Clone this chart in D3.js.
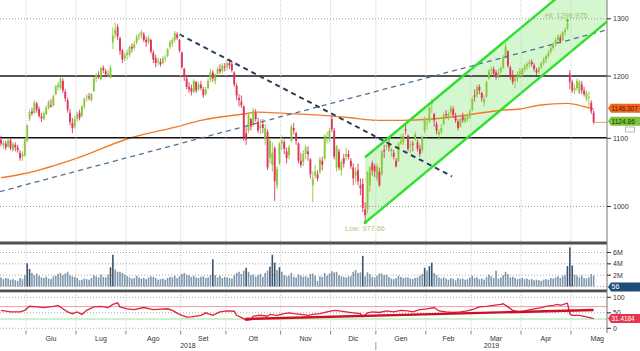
<!DOCTYPE html>
<html><head><meta charset="utf-8">
<script src="https://cdn.jsdelivr.net/npm/d3@7"></script>
<style>body{margin:0;background:#fff;}svg{display:block;}text{font-family:"Liberation Sans",Arial,sans-serif;}</style>
</head><body><svg id="c" width="640" height="351"></svg>
<script>
// ---------- DATA ----------
const startDate = "2018-05-16";
const holidays = ["2018-05-28","2018-07-04","2018-09-03","2018-11-22","2018-12-05","2018-12-25","2019-01-01","2019-01-21","2019-02-18","2019-04-19","2019-05-27"];
const opens = [1098,1090,1092,1088,1097,1082,1090,1086,1078,1072,1074,
1096,1130,1142,1140,1155,1146,1134,1130,1138,1148,1152,1152,1170,1182,1180,1192,1174,1160,1140,1124,1118,
1130,1140,1135,1150,1165,1166,1160,1175,1196,1200,1195,1214,1208,1202,1198,1258,1272,1285,1265,1244,1230,
1236,1236,1250,1248,1258,1268,1270,1272,1262,1258,1262,1240,1230,1224,1224,1222,1230,1234,1250,1256,1262,1272,1262,
1240,1212,1196,1182,1180,1174,1190,1178,1186,1178,1170,1180,1194,1206,1192,1204,1212,1208,1216,
1216,1222,1220,1206,1184,1164,1158,1150,1108,1112,1130,1122,1140,1126,1116,1122,1100,1110,1070,1060,1085,1030,1062,
1092,1094,1080,1074,1096,1116,1108,1092,1066,1064,1076,1080,1068,1030,1044,1046,1050,1066,1070,1100,1100,
1130,1112,1056,1080,1052,1070,1072,1076,1066,1056,1044,1052,1030,1032,996,996,1030,1062,1058,
1040,1050,1046,1082,1088,1092,1080,1078,1066,1066,1092,1094,1114,1104,1090,1092,1100,1094,1084,1082,1112,
1124,1126,1154,1138,1122,1106,1110,1122,1138,1134,1140,1146,1134,1126,1118,1134,1126,1130,1134,
1144,1168,1168,1182,1172,1156,1166,1196,1210,1212,1206,1200,1208,1214,1232,1242,1214,1202,1192,1196,1204,
1202,1212,1216,1220,1224,1218,1210,1206,1214,1222,1228,1234,1242,1248,1256,1262,1266,1262,1276,1282,1204,
1190,1176,1180,1172,1186,1176,1162,1166,1156,1140];
const highs = [1104,1097,1096,1100,1100,1094,1094,1090,1082,1080,1100,
1122,1145,1148,1160,1158,1150,1140,1142,1152,1160,1162,1170,1185,1190,1199,1196,1178,1164,1146,1132,1135,
1142,1145,1152,1165,1170,1172,1172,1198,1205,1208,1216,1218,1212,1210,1218,1284,1293,1290,1268,1246,1240,
1245,1252,1256,1260,1272,1275,1280,1276,1268,1270,1264,1244,1236,1232,1230,1234,1236,1248,1262,1266,1278,1276,1264,
1242,1214,1200,1190,1186,1195,1192,1190,1192,1182,1182,1196,1212,1210,1204,1216,1220,1222,1222,
1228,1230,1226,1208,1188,1170,1168,1152,1118,1140,1132,1148,1146,1132,1130,1130,1122,1114,1100,1094,1088,1058,1094,
1104,1098,1086,1090,1122,1124,1110,1094,1078,1082,1090,1088,1070,1050,1060,1052,1072,1072,1106,1110,1116,
1136,1116,1090,1084,1068,1076,1086,1082,1070,1062,1056,1062,1040,1040,1006,1050,1058,1066,1062,
1062,1056,1082,1090,1096,1100,1086,1082,1070,1094,1106,1108,1122,1106,1096,1096,1110,1098,1090,1104,1134,
1132,1150,1162,1140,1126,1114,1122,1140,1144,1142,1152,1150,1140,1130,1132,1140,1136,1138,1146,
1166,1178,1186,1186,1174,1168,1192,1212,1216,1216,1210,1212,1216,1236,1256,1244,1218,1210,1200,1208,1214,
1214,1220,1224,1228,1228,1222,1214,1216,1224,1232,1236,1244,1252,1258,1266,1272,1272,1278,1284,1296.975,1210,
1194,1186,1196,1194,1192,1182,1176,1174,1160,1144];
const lows = [1088,1084,1082,1085,1082,1080,1080,1078,1066,1066,1072,
1094,1127,1135,1138,1140,1132,1125,1128,1136,1145,1148,1150,1168,1176,1178,1172,1158,1140,1120,1108,1115,
1126,1128,1133,1146,1158,1160,1158,1174,1190,1195,1193,1205,1198,1198,1196,1246,1265,1262,1236,1222,1225,
1228,1232,1240,1244,1254,1262,1264,1258,1250,1255,1238,1222,1215,1218,1216,1220,1224,1232,1246,1250,1258,1262,1240,
1212,1192,1178,1172,1168,1172,1172,1175,1176,1164,1168,1178,1190,1190,1186,1200,1204,1204,1208,
1210,1212,1206,1182,1160,1150,1148,1096,1090,1108,1112,1118,1126,1108,1106,1108,1090,1052,1062,1050,1008,1025,1060,
1082,1076,1062,1068,1094,1106,1090,1062,1056,1058,1068,1066,1040,1006,1040,1036,1046,1052,1066,1092,1094,
1110,1068,1050,1052,1044,1056,1066,1068,1054,1030,1034,1030,1016,992,977.66,990,1020,1044,1042,
1036,1028,1044,1070,1082,1080,1072,1068,1056,1064,1090,1090,1106,1080,1078,1080,1096,1080,1072,1078,1108,
1114,1124,1140,1118,1106,1098,1106,1120,1132,1128,1136,1132,1124,1112,1116,1124,1124,1126,1130,
1142,1158,1164,1170,1158,1150,1164,1194,1202,1200,1194,1196,1204,1212,1230,1214,1194,1186,1180,1190,1198,
1198,1206,1210,1214,1216,1208,1202,1204,1212,1218,1222,1230,1238,1244,1250,1256,1256,1260,1270,1280,1178,
1172,1170,1176,1170,1170,1166,1158,1150,1138,1122];
const closes = [1092,1093,1086,1097,1085,1091,1086,1082,1070,1076,1098,
1120,1141,1139,1156,1145,1135,1131,1139,1148,1158,1150,1166,1183,1186,1195,1176,1163,1145,1125,1116,1130,
1138,1132,1150,1162,1166,1164,1170,1196,1202,1198,1213,1210,1203,1204,1214,1270,1280,1268,1243,1228,1236,
1240,1250,1247,1255,1268,1270,1276,1262,1258,1266,1242,1228,1222,1226,1220,1230,1232,1246,1258,1262,1274,1266,1244,
1215,1198,1182,1178,1174,1192,1176,1186,1180,1168,1178,1192,1206,1196,1200,1212,1208,1218,1214,
1222,1218,1210,1186,1168,1160,1152,1102,1098,1136,1118,1144,1130,1112,1120,1116,1116,1056,1096,1078,1036,1054,1092,
1096,1084,1070,1086,1118,1112,1096,1066,1060,1076,1086,1076,1046,1040,1050,1040,1068,1060,1104,1100,1112,
1114,1072,1088,1056,1064,1062,1076,1072,1058,1040,1050,1036,1026,998,988,1050,1056,1052,1050,
1058,1030,1080,1080,1090,1086,1084,1072,1058,1092,1096,1104,1112,1084,1090,1090,1106,1084,1076,1102,1130,
1124,1148,1158,1128,1112,1110,1116,1136,1136,1138,1148,1136,1128,1116,1130,1128,1132,1134,1142,
1162,1166,1182,1176,1164,1162,1190,1208,1210,1204,1198,1206,1214,1232,1250,1218,1200,1190,1196,1204,1208,
1212,1216,1220,1224,1220,1212,1206,1214,1222,1228,1234,1240,1248,1254,1262,1268,1260,1276,1280,1292,1190,
1176,1180,1192,1190,1176,1170,1172,1166,1142,1124.86];
const volumes = [1.6,1.3,1.5,1.4,1.2,1.3,1.1,1.0,1.5,1.3,2.0,
4.1,3.1,2.4,2.0,2.3,1.9,1.6,1.5,1.7,1.4,1.3,1.8,1.9,2.2,2.4,2.0,2.3,2.6,2.0,1.8,1.7,
1.5,1.1,1.2,1.4,1.3,1.2,1.5,2.0,1.8,1.6,2.1,1.7,1.6,2.1,3.4,5.6,3.0,2.6,2.6,2.4,2.1,
1.8,1.6,1.4,1.5,1.9,1.6,1.4,1.5,1.3,1.6,1.8,1.7,1.5,1.2,1.3,1.4,1.2,1.5,1.7,1.6,1.9,1.5,1.8,
2.2,2.4,2.1,2.0,1.7,1.9,1.6,1.5,1.7,1.8,1.5,1.6,2.0,4.8,2.0,1.6,1.9,1.5,1.7,
1.6,1.5,1.4,2.0,2.4,2.6,2.2,2.8,3.3,2.6,2.0,2.1,1.7,2.0,2.2,1.7,2.4,2.8,3.5,5.6,4.2,2.9,3.4,
2.6,2.0,1.8,1.9,2.4,1.7,1.6,2.1,1.9,1.7,1.8,1.6,2.2,2.3,1.9,1.0,1.8,1.7,2.4,1.9,2.3,
2.7,2.5,2.6,2.0,1.8,1.7,1.6,1.8,1.8,2.6,2.9,2.4,2.5,5.4,1.8,2.5,2.2,1.7,1.6,
1.9,2.3,2.3,2.0,2.1,1.7,1.4,1.3,1.5,1.9,1.7,1.5,1.6,1.6,1.4,1.3,1.5,1.6,1.9,2.2,3.3,
2.8,3.6,4.2,2.4,2.0,1.6,1.4,1.6,1.4,1.2,1.5,1.3,1.1,1.5,1.3,1.4,1.2,1.3,1.6,
1.9,1.5,1.6,1.3,1.4,1.2,1.7,2.1,1.8,1.5,2.8,1.4,1.6,2.0,2.6,2.2,1.6,1.7,1.5,1.3,1.4,
1.5,1.3,1.4,1.2,1.3,1.1,1.2,1.1,1.0,1.2,1.3,1.2,1.5,1.4,1.6,1.8,1.5,1.9,2.0,3.6,6.9,
3.7,2.1,1.9,1.6,1.9,1.5,1.4,1.6,2.2,1.9];
const maIdx = [0,11,32,53,75,84,102,108,119,138,147,158,168,181,197,210,218,226,238,247,249];
const maVal = [1041,1048,1070,1099,1119,1128,1138,1141,1139,1135,1132,1128,1128,1130,1137,1144,1146,1152,1155,1148,1146.307];
const rsiIdx = [0,4,8,10,12,15,18,22,24,26,28,30,32,34,36,39,42,45,47,49,50,53,56,60,64,70,72,75,78,80,84,86,89,92,95,98,99,102,103,105,106,109,112,113,116,119,121,123,126,129,131,134,137,140,142,145,148,151,152,154,156,159,162,165,168,171,173,176,179,182,184,187,190,193,196,199,201,204,207,210,211,213,215,218,221,224,227,229,232,234,235,237,238,239,240,243,246,249];
const rsiVal = [58,53,53,58,71,69,67,71,74,63,53,47,53,45,58,69,71,67,77,82,69,63,60,67,60,63,58,45,36,37,42,50,42,53,56,55,42,31,26,28,39,42,39,45,42,47,50,47,45,42,45,47,53,58,56,53,50,47,37,50,53,51,56,53,58,56,53,60,63,67,56,53,51,53,56,63,69,71,74,77,79,69,58,53,58,63,67,71,74,77,74,79,81,47,42,42,37,31.4184];
const monthLabels = ["Mag","Giu","Lug","Ago","Set","Ott","Nov","Dic","Gen","Feb","Mar","Apr","Mag"];
const yearLabels = ["2018","2019"];
const priceTicks = [1000,1100,1200,1300];
const levelLines = [1200,1101];
const volTicks = [2,4,6];
const rsiTicks = [0,50,100];
const rsiBands = [70,30];
const rsiTrend = [[102.6,30],[249,59]];
const downTrend = [[75,1272],[189.5,1043]];
const upTrend = [[-0.5,1021],[254.6,1280]];
const chanLower = [[153,977.66],[254.6,1294.6]];
const chanUpper = [[153,1071.3],[254.6,1418.6]];
const hiLabel = "Hi: 1296.975", loLabel = "Low: 977.66";
const lastPx = 1124.86, lastMa = 1146.307, lastVolLabel = "56", lastRsi = 31.4184;

// ---------- BUILD ----------
const svg = d3.select("#c");
const N = closes.length;
function tradingDays(start, n){
  const out=[]; const d=new Date(start+"T00:00:00Z");
  while(out.length<n){const w=d.getUTCDay(), s=d.toISOString().slice(0,10);
    if(w!==0&&w!==6&&!holidays.includes(s)) out.push(new Date(d));
    d.setUTCDate(d.getUTCDate()+1);}
  return out;
}
const days = tradingDays(startDate, N+12);
const step = 2.38;
const AX = 607;
const x = d3.scaleLinear().domain([0,N-1]).range([1,1+step*(N-1)]);
const y = d3.scaleLog().domain([1000,1300]).range([206.5,18.8]);
const yv = d3.scaleLinear().domain([0,6]).range([286.5,252.5]);
const yr = d3.scaleLinear().domain([0,100]).range([328.3,297.3]);

const months=[];
days.forEach((d,i)=>{const k=d.getUTCFullYear()*12+d.getUTCMonth();
  if(!months.length||months[months.length-1].k!==k) months.push({k,start:i,count:1,year:d.getUTCFullYear()}); else months[months.length-1].count++;});
months.forEach((m,j)=>{m.label=monthLabels[j]; m.bx=x(m.start)-step/2;});

const defs=svg.append("defs");
defs.append("clipPath").attr("id","cm").append("rect").attr("x",0).attr("y",0).attr("width",AX).attr("height",241);
defs.append("clipPath").attr("id","cv").append("rect").attr("x",0).attr("y",245).attr("width",AX).attr("height",44);

const main = svg.append("g").attr("clip-path","url(#cm)");
main.append("path").attr("d", d3.line()([ [x(chanLower[0][0]),y(chanLower[0][1])],[x(chanLower[1][0]),y(chanLower[1][1])],[x(chanUpper[1][0]),y(chanUpper[1][1])],[x(chanUpper[0][0]),y(chanUpper[0][1])] ])+"Z")
  .attr("fill","#d4f7cf");

const grid = svg.append("g");
months.filter(m=>m.start>0).forEach(m=>{
  grid.append("line").attr("x1",m.bx).attr("x2",m.bx).attr("y1",0).attr("y2",330).attr("stroke","#c8c8c8").attr("stroke-dasharray","1,1.5");
});
[1000,1300].forEach(p=>grid.append("line").attr("x1",0).attr("x2",AX+4).attr("y1",y(p)).attr("y2",y(p)).attr("stroke","#9a9a9a").attr("stroke-dasharray","1,2"));
[0].concat(volTicks).forEach(v=>grid.append("line").attr("x1",0).attr("x2",AX+4).attr("y1",yv(v)).attr("y2",yv(v)).attr("stroke","#aaa").attr("stroke-dasharray","1,2"));
rsiTicks.forEach(v=>grid.append("line").attr("x1",0).attr("x2",AX+4).attr("y1",yr(v)).attr("y2",yr(v)).attr("stroke","#aaa").attr("stroke-dasharray","1,2"));

main.append("path").datum(maIdx.map((d,i)=>[x(d),y(maVal[i])])).attr("d",d3.line().curve(d3.curveMonotoneX))
  .attr("fill","none").attr("stroke","#f07c2a").attr("stroke-width",1.4);

main.append("line").attr("x1",0).attr("x2",AX).attr("y1",y(levelLines[0])).attr("y2",y(levelLines[0])).attr("stroke","#555").attr("stroke-width",2);
main.append("line").attr("x1",0).attr("x2",AX).attr("y1",y(levelLines[1])).attr("y2",y(levelLines[1])).attr("stroke","#111").attr("stroke-width",1.5);

const up="#8cc83c", dn="#e0345c";
const cg = main.append("g");
d3.range(N).forEach(i=>{
  const c = closes[i]>=opens[i]?up:dn, cx=x(i);
  cg.append("line").attr("x1",cx).attr("x2",cx).attr("y1",y(highs[i])).attr("y2",y(lows[i])).attr("stroke",c).attr("stroke-width",0.9);
  const t=y(Math.max(opens[i],closes[i])), b=y(Math.min(opens[i],closes[i]));
  cg.append("rect").attr("x",cx-0.95).attr("width",1.9).attr("y",t).attr("height",Math.max(0.8,b-t)).attr("fill",c);
});

const L = d3.line().x(d=>x(d[0])).y(d=>y(d[1]));
main.append("path").attr("d",L(upTrend)).attr("stroke","#4d7396").attr("stroke-width",1.3).attr("stroke-dasharray","5,4").attr("fill","none");
main.append("path").attr("d",L(downTrend)).attr("stroke","#2a3f5e").attr("stroke-width",2).attr("stroke-dasharray","5,4").attr("fill","none");
main.append("path").attr("d",L(chanLower)).attr("stroke","#2ee02e").attr("stroke-width",2.4).attr("fill","none");
main.append("path").attr("d",L(chanUpper)).attr("stroke","#2ee02e").attr("stroke-width",2.4).attr("fill","none");
main.append("circle").attr("cx",x(153)).attr("cy",y(977.66)).attr("r",1.6).attr("fill","#2ee02e");
main.append("circle").attr("cx",x(238)).attr("cy",y(1296.975)).attr("r",1.4).attr("fill","#2ee02e");
main.append("text").attr("x",545).attr("y",18).attr("font-size",7.5).attr("fill","#9dc46a").text(hiLabel);
main.append("text").attr("x",345).attr("y",230.5).attr("font-size",7.3).attr("fill","#b5c47a").text(loLabel);

main.append("line").attr("x1",x(N-1)).attr("x2",AX).attr("y1",y(lastPx)).attr("y2",y(lastPx)).attr("stroke","#e0a060").attr("stroke-width",1);

const vg = svg.append("g").attr("clip-path","url(#cv)");
volumes.forEach((v,i)=>{
  vg.append("rect").attr("x",x(i)-0.8).attr("width",1.6).attr("y",yv(v)).attr("height",yv(0)-yv(v)).attr("fill",v>3?"#3c5470":"#7f97ae");
});

svg.append("line").attr("x1",0).attr("x2",AX).attr("y1",yr(rsiBands[0])).attr("y2",yr(rsiBands[0])).attr("stroke","#e8a0a8").attr("stroke-width",1);
svg.append("line").attr("x1",0).attr("x2",AX).attr("y1",yr(rsiBands[1])).attr("y2",yr(rsiBands[1])).attr("stroke","#9de09d").attr("stroke-width",1);
svg.append("path").datum(rsiIdx.map((d,i)=>[x(d),yr(rsiVal[i])])).attr("d",d3.line()).attr("fill","none").attr("stroke","#e0203e").attr("stroke-width",1.3);
svg.append("path").attr("d",d3.line().x(d=>x(d[0])).y(d=>yr(d[1]))(rsiTrend)).attr("stroke","#cf1020").attr("stroke-width",2.4).attr("fill","none");

svg.append("rect").attr("x",0).attr("y",241.5).attr("width",AX).attr("height",3).attr("fill","#505050");
svg.append("rect").attr("x",0).attr("y",289.5).attr("width",AX).attr("height",2.8).attr("fill","#505050");

svg.append("line").attr("x1",AX).attr("x2",AX).attr("y1",0).attr("y2",333).attr("stroke","#777");
const ax = svg.append("g").attr("font-size",7).attr("fill","#333");
priceTicks.forEach(p=>{ax.append("line").attr("x1",AX).attr("x2",AX+4).attr("y1",y(p)).attr("y2",y(p)).attr("stroke","#333");
  ax.append("text").attr("x",AX+6).attr("y",y(p)+2.5).text(p);});
volTicks.forEach(v=>{ax.append("line").attr("x1",AX).attr("x2",AX+4).attr("y1",yv(v)).attr("y2",yv(v)).attr("stroke","#333");
  ax.append("text").attr("x",AX+6).attr("y",yv(v)+2.5).text(v+"M");});
rsiTicks.forEach(v=>{ax.append("line").attr("x1",AX).attr("x2",AX+4).attr("y1",yr(v)).attr("y2",yr(v)).attr("stroke","#333");
  ax.append("text").attr("x",AX+6).attr("y",yr(v)+2.5).text(v);});

function tag(yc, bg, fg, txt, fs){
  const h=4.5;
  svg.append("path").attr("d",`M${AX+1},${yc} L${AX+4},${yc-h} L640,${yc-h} L640,${yc+h} L${AX+4},${yc+h} Z`).attr("fill",bg);
  svg.append("text").attr("x",AX+4.5).attr("y",yc+2.4).attr("font-size",fs).attr("fill",fg).text(txt);
}
tag(y(lastMa)-0.5,"#f0641e","#4a1800",lastMa.toFixed(3),6.4);
tag(y(lastPx)-1,"#7cc23a","#1a3300",lastPx.toFixed(2),6.6);
svg.append("rect").attr("x",625.5).attr("y",127).attr("width",9).attr("height",5).attr("fill","none").attr("stroke","#aaa").attr("stroke-width",0.8);
tag(287,"#1f4d7a","#fff",lastVolLabel,7);
tag(yr(lastRsi),"#e8344e","#fff",lastRsi.toFixed(4),6.4);

const xa = svg.append("g").attr("font-size",7).attr("fill","#333");
months.forEach((m,j)=>{
  if(m.start>0) xa.append("line").attr("x1",m.bx).attr("x2",m.bx).attr("y1",330.5).attr("y2",334.5).attr("stroke","#888");
  if(m.start>0 && m.start<N) xa.append("text").attr("x",m.bx+m.count*step/2).attr("y",340.5).attr("text-anchor","middle").text(m.label);
});
const jan = months.find(m=>m.year===2019);
xa.append("line").attr("x1",jan.bx).attr("x2",jan.bx).attr("y1",342).attr("y2",350).attr("stroke","#999");
xa.append("text").attr("x",jan.bx/2).attr("y",347.5).attr("text-anchor","middle").text(yearLabels[0]);
xa.append("text").attr("x",(jan.bx+AX)/2).attr("y",347.5).attr("text-anchor","middle").text(yearLabels[1]);
</script></body></html>
